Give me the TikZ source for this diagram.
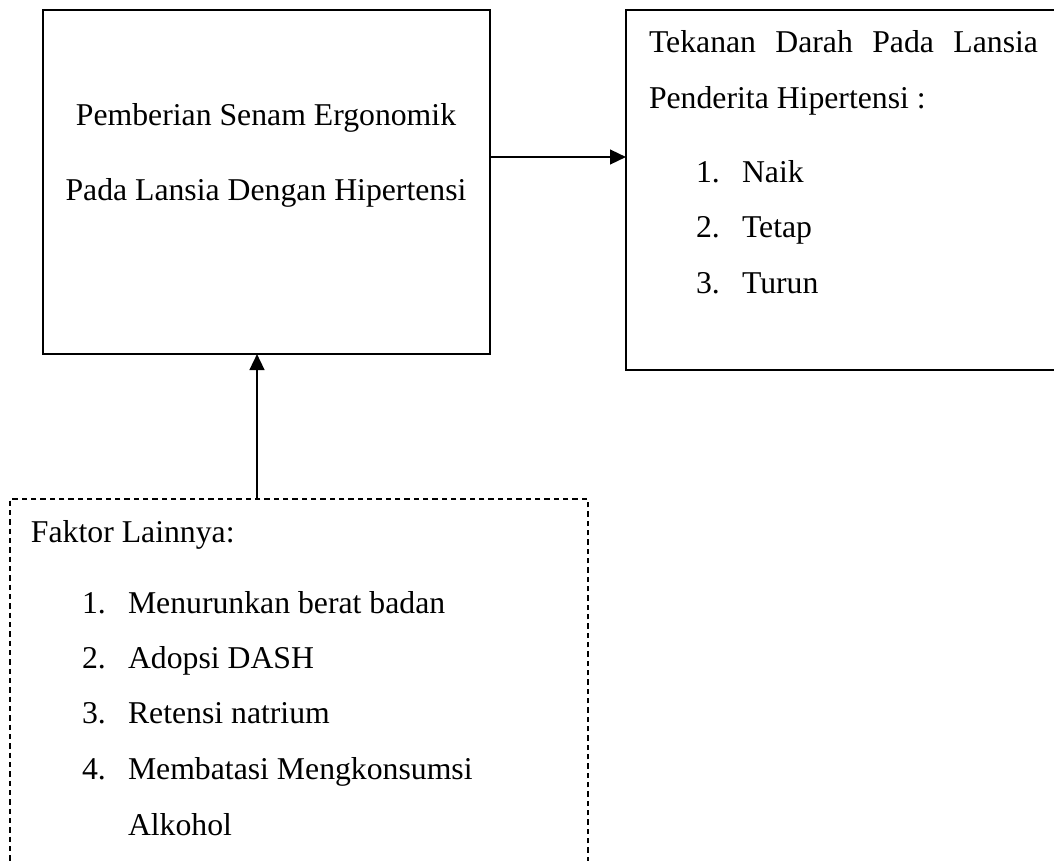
\documentclass[tikz,border=0pt]{standalone}
\usepackage{fontspec}
\setmainfont{Liberation Serif}
\usetikzlibrary{arrows.meta}
\begin{document}
\begin{tikzpicture}[x=0.75pt,y=-0.75pt,
  every node/.style={font=\fontsize{23.8}{28}\selectfont, inner sep=0pt, outer sep=0pt},
  solidbox/.style={draw, line width=1.4pt, rectangle, anchor=north west},
  dashbox/.style={draw, line width=1.1pt, rectangle, anchor=north west, dash pattern=on 4pt off 3pt},
  txt/.style={anchor=base west},
  arr/.style={line width=1.8pt, -{Triangle[length=12pt,width=11pt]}}]
\useasboundingbox (0,0) rectangle (1054,861);
\clip (0,0) rectangle (1054,861);
\fill[white] (0,0) rectangle (1054,861);
% boxes
\node[solidbox, minimum width=335.25pt, minimum height=258pt] (L) at (43,10) {};
\node[solidbox, minimum width=355.5pt, minimum height=270pt] (R) at (626,10) {};
\node[dashbox, minimum width=433.5pt, minimum height=300.75pt] (D) at (10,499) {};
% left text
\node[anchor=base] (l1) at (266,125) {Pemberian Senam Ergonomik};
\node[anchor=base] (l2) at (266,200) {Pada Lansia Dengan Hipertensi};
% right text
\node[txt] (r1) at (649,52) {\makebox[291.75pt][s]{Tekanan\hfill Darah\hfill Pada\hfill Lansia}};
\node[txt] (r2) at (649,108) {Penderita Hipertensi :};
\node[txt] (rn1) at (696,182) {1.};
\node[txt] (rt1) at (742,182) {Naik};
\node[txt] (rn2) at (696,237) {2.};
\node[txt] (rt2) at (742,237) {Tetap};
\node[txt] (rn3) at (696,293) {3.};
\node[txt] (rt3) at (742,293) {Turun};
% dashed box text
\node[txt] (d0) at (31,542) {Faktor Lainnya:};
\node[txt] (dn1) at (82,613) {1.};
\node[txt] (dt1) at (128,613) {Menurunkan berat badan};
\node[txt] (dn2) at (82,668) {2.};
\node[txt] (dt2) at (128,668) {Adopsi DASH};
\node[txt] (dn3) at (82,723) {3.};
\node[txt] (dt3) at (128,723) {Retensi natrium};
\node[txt] (dn4) at (82,779) {4.};
\node[txt] (dt4) at (128,779) {Membatasi Mengkonsumsi};
\node[txt] (dt5) at (128,835) {Alkohol};
% connectors
\coordinate (ay) at (0,157);
\coordinate (ux) at (257,0);
\draw[arr] (L.east |- ay) -- (R.west |- ay);
\draw[arr] (D.north -| ux) -- (L.south -| ux);
\end{tikzpicture}
\end{document}
